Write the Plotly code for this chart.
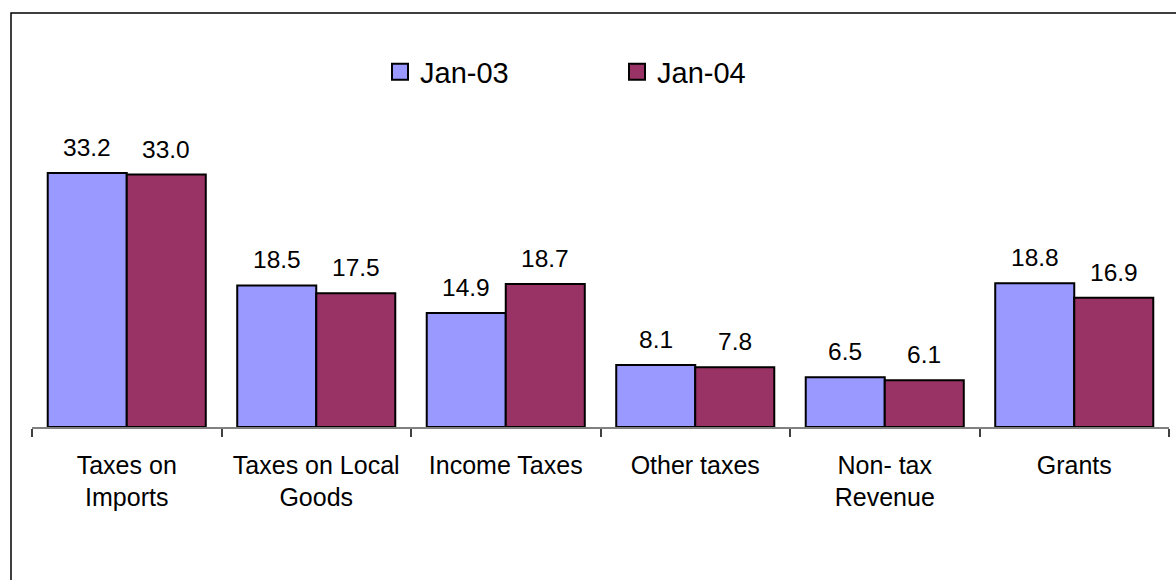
import plotly.graph_objects as go

categories = ["Taxes on<br>Imports", "Taxes on Local<br>Goods", "Income Taxes",
              "Other taxes", "Non- tax<br>Revenue", "Grants"]
series_names = ["Jan-03", "Jan-04"]
jan03 = [33.2, 18.5, 14.9, 8.1, 6.5, 18.8]
jan04 = [33.0, 17.5, 18.7, 7.8, 6.1, 16.9]
colors = ["#9999FF", "#993366"]

FONT = "Liberation Sans, Arial, sans-serif"

fig = go.Figure()
for name, vals, col in zip(series_names, [jan03, jan04], colors):
    fig.add_trace(go.Bar(
        x=categories, y=vals, name=name, showlegend=False,
        marker=dict(color=col, line=dict(color="black", width=2)),
        hoverinfo="skip",
    ))
    # legend entry
    fig.add_trace(go.Scatter(
        x=[None], y=[None], mode="markers", name=name,
        marker=dict(symbol="square", size=20, color=col,
                    line=dict(color="black", width=2)),
    ))

# value labels
half_bar = 39.5
for j, vals in enumerate([jan03, jan04]):
    for cat, v in zip(categories, vals):
        fig.add_annotation(
            x=cat, y=v, xref="x", yref="y", text=f"{v:.1f}",
            showarrow=False, yanchor="bottom", xanchor="center",
            xshift=(-half_bar if j == 0 else half_bar), yshift=10,
            font=dict(family=FONT, size=24.5, color="black"),
        )

# outer chart border
fig.add_shape(type="rect", xref="paper", yref="paper",
              x0=(11 - 32) / 1137, x1=1.2, y0=-1.0, y1=(427 - 13) / 306,
              line=dict(color="black", width=1.5), fillcolor="rgba(0,0,0,0)",
              layer="below")

fig.update_layout(
    width=1176, height=580,
    margin=dict(l=32, r=7, t=121, b=153),
    paper_bgcolor="white", plot_bgcolor="white",
    barmode="group", bargap=0.166, bargroupgap=0,
    font=dict(family=FONT, size=25, color="black"),
    showlegend=True,
    legend=dict(orientation="h", xref="container", yref="container",
                x=380 / 1176, xanchor="left", y=1 - 72 / 580, yanchor="middle",
                font=dict(family=FONT, size=29, color="black"),
                entrywidth=192, entrywidthmode="pixels",
                bgcolor="rgba(0,0,0,0)"),
    xaxis=dict(showline=True, linecolor="#808080", linewidth=1.5,
               ticks="outside", tickson="boundaries", ticklen=8,
               tickcolor="#404040", tickwidth=1.5,
               tickfont=dict(family=FONT, size=25, color="black"),
               ticklabelstandoff=15, showgrid=False, zeroline=False,
               fixedrange=True),
    yaxis=dict(range=[0, 40], visible=False, showgrid=False, zeroline=False,
               fixedrange=True),
)

fig.write_html("out.html")
